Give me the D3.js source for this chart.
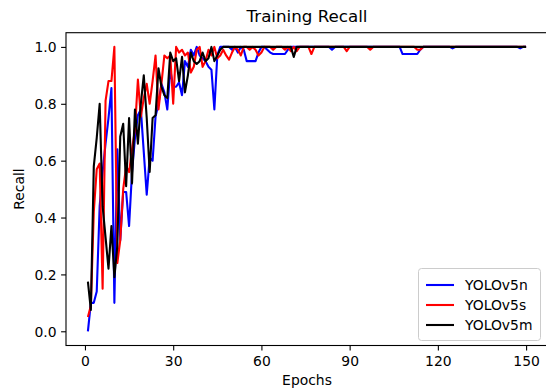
<!DOCTYPE html>
<html>
<head>
<meta charset="utf-8">
<script src="https://cdn.jsdelivr.net/npm/d3@7"></script>
<style>
  html, body { margin: 0; padding: 0; background: #fff; }
  svg { display: block; font-family: "DejaVu Sans", sans-serif; }
</style>
</head>
<body>
<svg id="chart" width="546" height="392"></svg>
<script>
// Recall per training epoch for three YOLOv5 model sizes
const epochs = d3.range(1, 151);

const recallN = [
  0.00, 0.10, 0.10, 0.14, 0.44, 0.56, 0.66, 0.75, 0.855, 0.10,
  0.64, 0.32, 0.49, 0.49, 0.37, 0.56, 0.68, 0.76, 0.78, 0.63,
  0.48, 0.61, 0.60, 0.755, 0.80, 0.87, 0.84, 0.78, 0.92, 0.86,
  0.86, 0.875, 0.83, 0.95, 0.93, 0.99, 0.97, 1.00, 0.97, 0.96,
  0.95, 0.93, 0.92, 0.78, 0.97, 1.00, 1.00, 1.00, 1.00, 0.99,
  1.00, 0.98, 1.00, 0.99, 0.95, 0.95, 0.95, 0.95, 0.98, 1.00,
  1.00, 0.99, 0.98, 0.975, 0.975, 0.975, 0.975, 0.975, 0.99, 1.00,
  1.00, 1.00, 1.00, 1.00, 1.00, 1.00, 1.00, 1.00, 1.00, 1.00,
  1.00, 1.00, 1.00, 0.99, 1.00, 1.00, 1.00, 1.00, 1.00, 1.00,
  1.00, 1.00, 1.00, 1.00, 1.00, 1.00, 1.00, 1.00, 1.00, 1.00,
  1.00, 1.00, 1.00, 1.00, 1.00, 1.00, 1.00, 0.975, 0.975, 0.975,
  0.975, 0.975, 0.975, 0.99, 1.00, 1.00, 1.00, 1.00, 1.00, 1.00,
  1.00, 1.00, 1.00, 1.00, 0.995, 1.00, 1.00, 1.00, 1.00, 1.00,
  1.00, 1.00, 1.00, 1.00, 1.00, 1.00, 1.00, 1.00, 1.00, 1.00,
  1.00, 1.00, 1.00, 1.00, 1.00, 1.00, 1.00, 0.995, 1.00, 1.00
];

const recallS = [
  0.05, 0.09, 0.42, 0.57, 0.59, 0.15, 0.81, 0.88, 0.88, 1.00,
  0.24, 0.32, 0.50, 0.58, 0.56, 0.64, 0.71, 0.885, 0.755, 0.82,
  0.87, 0.80, 0.88, 0.97, 0.78, 0.87, 0.97, 0.96, 0.97, 0.80,
  1.00, 0.98, 0.99, 0.97, 0.98, 0.91, 0.93, 0.99, 1.00, 0.93,
  0.95, 0.99, 0.97, 1.00, 0.96, 0.97, 0.99, 0.97, 0.955, 0.98,
  1.00, 0.99, 0.97, 1.00, 1.00, 0.99, 1.00, 0.99, 0.97, 0.98,
  1.00, 1.00, 1.00, 0.99, 1.00, 1.00, 1.00, 0.99, 1.00, 0.985,
  1.00, 0.985, 1.00, 1.00, 1.00, 1.00, 0.975, 1.00, 1.00, 1.00,
  1.00, 1.00, 1.00, 1.00, 1.00, 1.00, 1.00, 1.00, 0.985, 1.00,
  1.00, 1.00, 1.00, 1.00, 1.00, 1.00, 0.99, 1.00, 1.00, 1.00,
  1.00, 1.00, 1.00, 1.00, 1.00, 1.00, 1.00, 1.00, 1.00, 1.00,
  1.00, 1.00, 0.99, 0.99, 1.00, 1.00, 1.00, 1.00, 1.00, 1.00,
  1.00, 1.00, 1.00, 1.00, 1.00, 1.00, 1.00, 1.00, 1.00, 1.00,
  1.00, 1.00, 1.00, 1.00, 1.00, 1.00, 1.00, 1.00, 1.00, 1.00,
  1.00, 1.00, 1.00, 1.00, 1.00, 1.00, 1.00, 1.00, 1.00, 1.00
];

const recallM = [
  0.175, 0.075, 0.58, 0.68, 0.80, 0.44, 0.33, 0.22, 0.37, 0.19,
  0.30, 0.685, 0.73, 0.51, 0.75, 0.52, 0.78, 0.66, 0.80, 0.90,
  0.75, 0.56, 0.75, 0.76, 0.925, 0.86, 0.83, 0.82, 0.98, 0.95,
  0.96, 0.88, 0.965, 0.84, 0.90, 0.98, 0.95, 0.94, 0.95, 0.98,
  0.95, 0.96, 1.00, 0.95, 0.97, 0.99, 1.00, 1.00, 1.00, 1.00,
  1.00, 1.00, 1.00, 1.00, 1.00, 1.00, 1.00, 1.00, 1.00, 1.00,
  1.00, 1.00, 1.00, 1.00, 1.00, 1.00, 1.00, 1.00, 1.00, 1.00,
  0.965, 1.00, 1.00, 1.00, 1.00, 1.00, 1.00, 1.00, 1.00, 1.00,
  1.00, 1.00, 1.00, 1.00, 1.00, 1.00, 1.00, 1.00, 1.00, 1.00,
  1.00, 1.00, 1.00, 1.00, 1.00, 1.00, 1.00, 1.00, 1.00, 1.00,
  1.00, 1.00, 1.00, 1.00, 1.00, 1.00, 1.00, 1.00, 1.00, 1.00,
  1.00, 1.00, 1.00, 1.00, 1.00, 1.00, 1.00, 1.00, 1.00, 1.00,
  1.00, 1.00, 1.00, 1.00, 1.00, 1.00, 1.00, 1.00, 1.00, 1.00,
  1.00, 1.00, 1.00, 1.00, 1.00, 1.00, 1.00, 1.00, 1.00, 1.00,
  1.00, 1.00, 1.00, 1.00, 1.00, 1.00, 1.00, 1.00, 1.00, 1.00
];

const seriesNames = ["YOLOv5n", "YOLOv5s", "YOLOv5m"];
const seriesColors = ["#0000ff", "#ff0000", "#000000"];
const xTicks = [0, 30, 60, 90, 120, 150];
const yTicks = [0.0, 0.2, 0.4, 0.6, 0.8, 1.0];

const titleText = "Training Recall";
const xLabel = "Epochs";
const yLabel = "Recall";

// Plot area
const plot = { left: 66, right: 548, top: 32.7, bottom: 345.5 };
const svg = d3.select("#chart");

const x = d3.scaleLinear().domain([-6.45, 157.45]).range([plot.left, plot.right]);
const y = d3.scaleLinear().domain([-0.05, 1.05]).range([plot.bottom, plot.top]);

const series = [recallN, recallS, recallM].map((vals, i) => ({
  name: seriesNames[i],
  color: seriesColors[i],
  points: epochs.map((e, j) => [e, vals[j]])
}));

const line = d3.line().x(d => x(d[0])).y(d => y(d[1]));

svg.append("g")
  .selectAll("path")
  .data(series)
  .join("path")
  .attr("d", d => line(d.points))
  .attr("fill", "none")
  .attr("stroke", d => d.color)
  .attr("stroke-width", 2.1)
  .attr("stroke-linejoin", "round")
  .attr("stroke-linecap", "butt");

// Frame
svg.append("rect")
  .attr("x", plot.left).attr("y", plot.top)
  .attr("width", plot.right - plot.left).attr("height", plot.bottom - plot.top)
  .attr("fill", "none").attr("stroke", "#000").attr("stroke-width", 1.1);

// Axes
const xAxis = d3.axisBottom(x).tickValues(xTicks).tickFormat(d3.format("d"))
  .tickSizeInner(4.9).tickSizeOuter(0).tickPadding(4.6);
const gx = svg.append("g").attr("transform", `translate(0,${plot.bottom})`).call(xAxis);
gx.select(".domain").remove();
gx.selectAll("line").attr("stroke", "#000").attr("stroke-width", 1.1);
gx.selectAll("text").attr("font-size", 13.9).attr("fill", "#000")
  .attr("font-family", "DejaVu Sans").attr("dy", "0.76em");

const yAxis = d3.axisLeft(y).tickValues(yTicks).tickFormat(d3.format(".1f"))
  .tickSizeInner(4.9).tickSizeOuter(0).tickPadding(4.6);
const gy = svg.append("g").attr("transform", `translate(${plot.left},0)`).call(yAxis);
gy.select(".domain").remove();
gy.selectAll("line").attr("stroke", "#000").attr("stroke-width", 1.1);
gy.selectAll("text").attr("font-size", 13.9).attr("fill", "#000")
  .attr("font-family", "DejaVu Sans").attr("dy", "0.36em");

// Title and axis labels
const midX = (plot.left + plot.right) / 2;
svg.append("text").attr("x", midX).attr("y", 22)
  .attr("text-anchor", "middle").attr("font-size", 16.7).attr("fill", "#000")
  .text(titleText);

svg.append("text").attr("x", midX).attr("y", 385)
  .attr("text-anchor", "middle").attr("font-size", 13.9).attr("fill", "#000")
  .text(xLabel);

svg.append("text")
  .attr("transform", `translate(24,${(plot.top + plot.bottom) / 2}) rotate(-90)`)
  .attr("text-anchor", "middle").attr("font-size", 13.9).attr("fill", "#000")
  .text(yLabel);

// Legend
const legend = svg.append("g").attr("transform", "translate(418,268)");
legend.append("rect")
  .attr("x", 0.5).attr("y", 0.5).attr("width", 122).attr("height", 72)
  .attr("rx", 3).attr("ry", 3)
  .attr("fill", "#fff").attr("fill-opacity", 0.8)
  .attr("stroke", "#cccccc").attr("stroke-width", 1);

const rows = legend.selectAll("g.row")
  .data(series)
  .join("g")
  .attr("class", "row")
  .attr("transform", (d, i) => `translate(0,${17 + i * 20})`);

rows.append("line")
  .attr("x1", 8).attr("x2", 36).attr("y1", 0).attr("y2", 0)
  .attr("stroke", d => d.color).attr("stroke-width", 2.1);

rows.append("text")
  .attr("x", 47).attr("y", 0).attr("dy", "0.36em")
  .attr("font-size", 13.9).attr("fill", "#000")
  .text(d => d.name);
</script>
</body>
</html>
